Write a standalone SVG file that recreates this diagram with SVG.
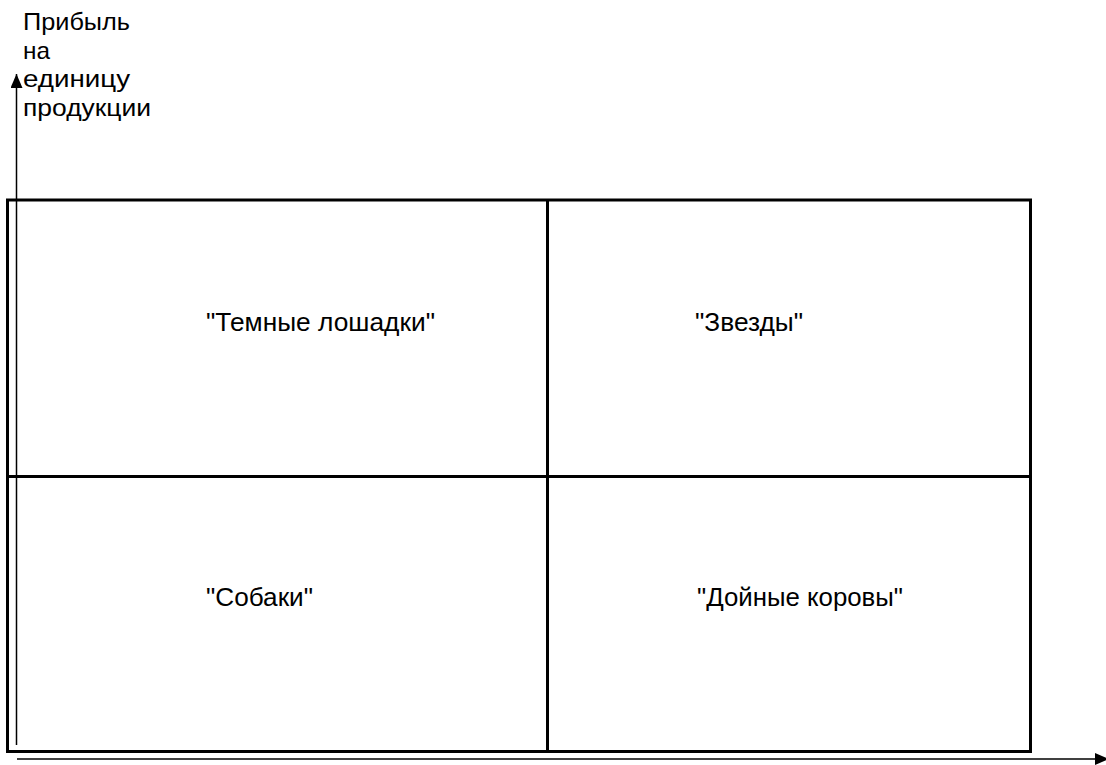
<svg xmlns="http://www.w3.org/2000/svg" width="1106" height="765" viewBox="0 0 1106 765">
<style>
.t{font-family:"Liberation Sans",Arial,sans-serif;font-size:26px;fill:#000}
.ax{font-family:"Liberation Sans",Arial,sans-serif;font-size:24px;fill:#000}
.box{fill:none;stroke:#000;stroke-width:3}
.axis{stroke:#000;stroke-width:1.5;fill:none}
</style>
<defs>
<marker id="ah" viewBox="0 0 14 12" refX="14" refY="6" markerWidth="14" markerHeight="12" markerUnits="userSpaceOnUse" orient="auto">
<path d="M0,0 L14,6 L0,12 Z" fill="#000"/>
</marker>
</defs>
<rect width="1106" height="765" fill="#fff"/>
<g id="connectors">
<line class="axis" x1="16.5" y1="745" x2="16.5" y2="74" marker-end="url(#ah)"/>
<line class="axis" x1="17" y1="759" x2="1109" y2="759" marker-end="url(#ah)"/>
</g>
<g id="axis-label">
<text class="ax" x="23" y="30" textLength="107" lengthAdjust="spacingAndGlyphs">Прибыль</text>
<text class="ax" x="23" y="58.5" textLength="27" lengthAdjust="spacingAndGlyphs">на</text>
<text class="ax" x="23" y="87" textLength="107" lengthAdjust="spacingAndGlyphs">единицу</text>
<text class="ax" x="23" y="115.5" textLength="128" lengthAdjust="spacingAndGlyphs">продукции</text>
</g>
<g id="matrix">
<rect class="box" x="7.5" y="200" width="1023" height="551.5"/>
<line class="box" x1="547.5" y1="200" x2="547.5" y2="751.5"/>
<line class="box" x1="7.5" y1="476.5" x2="1030.5" y2="476.5"/>
</g>
<g id="dark-horses"><text class="t" x="206" y="331" textLength="229" lengthAdjust="spacingAndGlyphs">"Темные лошадки"</text></g>
<g id="stars"><text class="t" x="695" y="331" textLength="108" lengthAdjust="spacingAndGlyphs">"Звезды"</text></g>
<g id="dogs"><text class="t" x="206" y="606" textLength="107" lengthAdjust="spacingAndGlyphs">"Собаки"</text></g>
<g id="cash-cows"><text class="t" x="697" y="606" textLength="206" lengthAdjust="spacingAndGlyphs">"Дойные коровы"</text></g>
</svg>
